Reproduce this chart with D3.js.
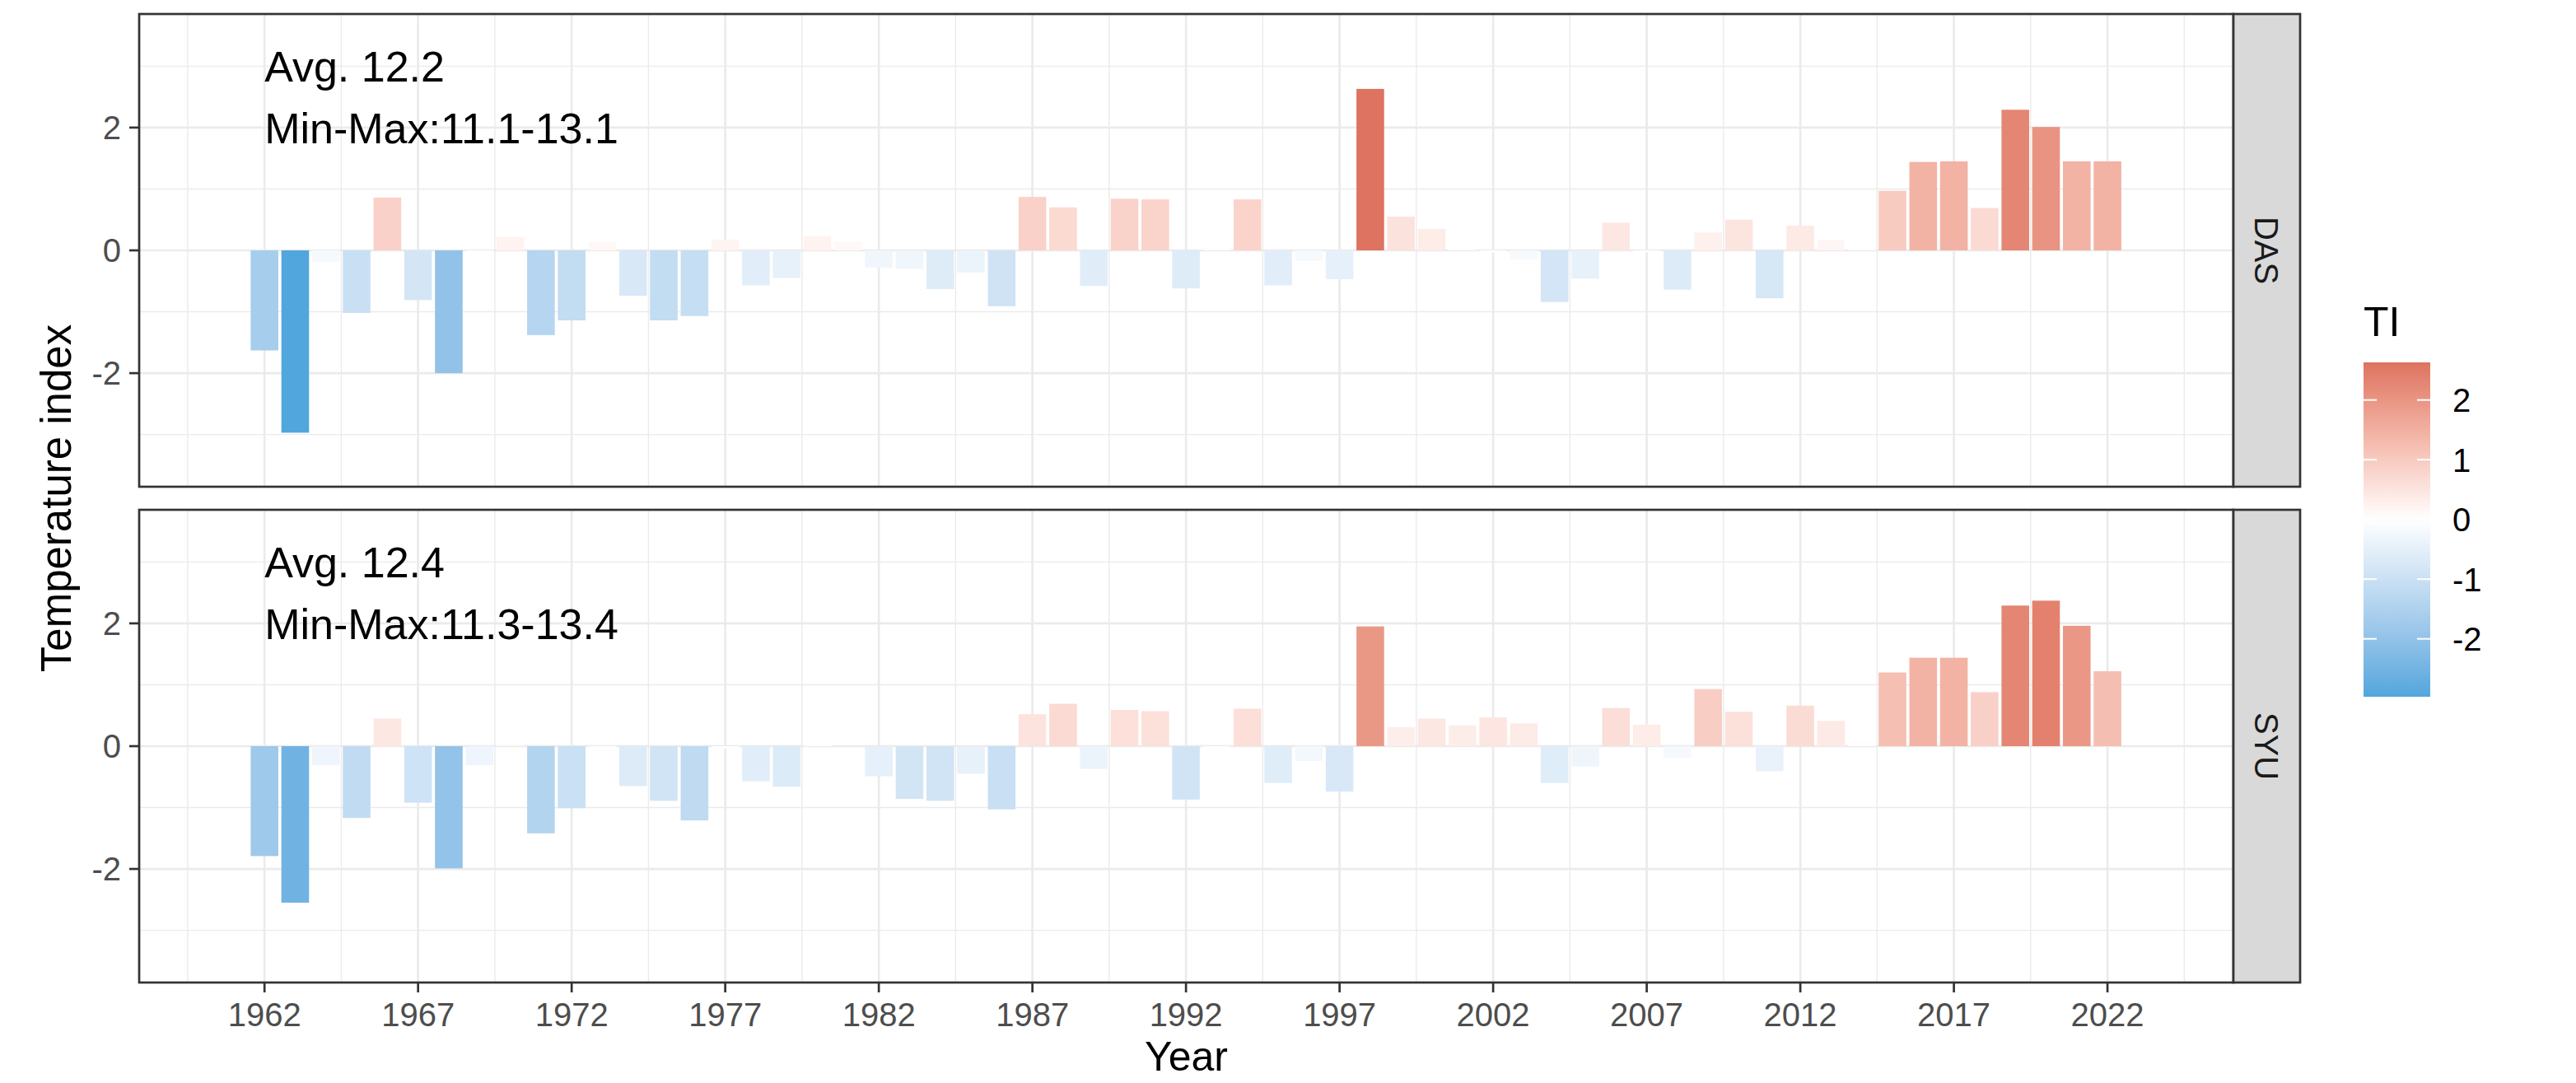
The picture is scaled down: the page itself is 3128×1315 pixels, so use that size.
<!DOCTYPE html>
<html><head><meta charset="utf-8">
<script src="https://cdn.jsdelivr.net/npm/d3@7"></script>
<style>body{margin:0;background:#fff} text{font-family:"Liberation Sans",Arial,sans-serif}</style>
</head><body><svg id="c" width="3128" height="1315"></svg>
<script>
const years = [1962,1963,1964,1965,1966,1967,1968,1969,1970,1971,1972,1973,1974,1975,1976,1977,1978,1979,1980,1981,
  1982,1983,1984,1985,1986,1987,1988,1989,1990,1991,1992,1993,1994,1995,1996,1997,1998,1999,2000,2001,
  2002,2003,2004,2005,2006,2007,2008,2009,2010,2011,2012,2013,2014,2015,2016,2017,2018,2019,2020,2021,2022];
const dasValues = [-1.63,-2.97,-0.19,-1.02,0.86,-0.81,-2.00,-0.02,0.22,-1.38,-1.14,0.14,-0.74,-1.14,-1.07,0.18,-0.57,-0.45,0.23,0.14,
  -0.28,-0.30,-0.63,-0.36,-0.91,0.87,0.70,-0.58,0.84,0.83,-0.62,0.05,0.83,-0.57,-0.17,-0.47,2.63,0.55,0.35,0.03,
  -0.03,-0.15,-0.84,-0.46,0.45,-0.03,-0.64,0.29,0.50,-0.78,0.40,0.17,0.02,0.97,1.44,1.45,0.69,2.29,2.01,1.45,1.45];
const syuValues = [-1.79,-2.55,-0.31,-1.17,0.45,-0.92,-1.99,-0.31,0.01,-1.42,-1.01,-0.02,-0.65,-0.89,-1.21,-0.04,-0.57,-0.66,0.02,0.00,
  -0.49,-0.86,-0.89,-0.45,-1.03,0.52,0.69,-0.37,0.59,0.57,-0.87,-0.03,0.61,-0.60,-0.24,-0.74,1.95,0.31,0.45,0.34,
  0.47,0.37,-0.60,-0.33,0.62,0.35,-0.19,0.93,0.56,-0.41,0.66,0.41,0.06,1.20,1.44,1.44,0.88,2.29,2.37,1.96,1.22];
const panelNames = ["DAS","SYU"];
const avgLabels = ["Avg. 12.2","Avg. 12.4"];
const rangeLabels = ["Min-Max:11.1-13.1","Min-Max:11.3-13.4"];
const xTicks = [1962,1967,1972,1977,1982,1987,1992,1997,2002,2007,2012,2017,2022];
const xMinor = [1959.5,1964.5,1969.5,1974.5,1979.5,1984.5,1989.5,1994.5,1999.5,2004.5,2009.5,2014.5,2019.5,2024.5];
const yTicks = [-2,0,2];
const yMinor = [-3,-1,1,3];
const legendTicks = [-2,-1,0,1,2];

const svg = d3.select("#c");
svg.append("rect").attr("width",3128).attr("height",1315).attr("fill","#fff");
const L = 169, R = 2712, panelTops = [17,619], panelH = 574;
const x = d3.scaleLinear().domain([1957.92, 2026.1]).range([L, R]);
const barW = (x(1) - x(0)) * 0.9;
const all = dasValues.concat(syuValues);
const ext = d3.extent(all);
const maxAbs = d3.max(ext, v => Math.abs(v));
const color = d3.scaleLinear().domain([-maxAbs, 0, maxAbs])
  .range(["#51A6DD", "#ffffff", "#D6604D"]).interpolate(d3.interpolateLab);
const series = [dasValues, syuValues];
const gridC = "#EBEBEB", dark = "#333333";

panelNames.forEach((name, pi) => {
  const top = panelTops[pi], bot = top + panelH;
  const y = d3.scaleLinear().domain([-3.85, 3.85]).range([bot, top]);
  const g = svg.append("g");
  g.append("rect").attr("x", L).attr("y", top).attr("width", R - L).attr("height", panelH).attr("fill", "#fff");
  g.selectAll(".xm").data(xMinor).enter().append("line")
    .attr("x1", d => x(d)).attr("x2", d => x(d)).attr("y1", top).attr("y2", bot)
    .attr("stroke", gridC).attr("stroke-width", 1.4);
  g.selectAll(".ym").data(yMinor).enter().append("line")
    .attr("y1", d => y(d)).attr("y2", d => y(d)).attr("x1", L).attr("x2", R)
    .attr("stroke", gridC).attr("stroke-width", 1.4);
  g.selectAll(".xM").data(xTicks).enter().append("line")
    .attr("x1", d => x(d)).attr("x2", d => x(d)).attr("y1", top).attr("y2", bot)
    .attr("stroke", gridC).attr("stroke-width", 2.7);
  g.selectAll(".yM").data(yTicks).enter().append("line")
    .attr("y1", d => y(d)).attr("y2", d => y(d)).attr("x1", L).attr("x2", R)
    .attr("stroke", gridC).attr("stroke-width", 2.7);
  const data = years.map((yr, i) => ({yr, v: series[pi][i]}));
  g.selectAll(".bar").data(data).enter().append("rect")
    .attr("x", d => x(d.yr) - barW / 2).attr("width", barW)
    .attr("y", d => y(Math.max(0, d.v))).attr("height", d => Math.abs(y(d.v) - y(0)))
    .attr("fill", d => color(d.v));
  g.append("text").attr("x", x(1962)).attr("y", y(3)).attr("dy", "0.36em")
    .attr("font-size", 52).attr("fill", "#000").text(avgLabels[pi]);
  g.append("text").attr("x", x(1962)).attr("y", y(2)).attr("dy", "0.36em")
    .attr("font-size", 52).attr("fill", "#000").text(rangeLabels[pi]);
  g.append("rect").attr("x", L).attr("y", top).attr("width", R - L).attr("height", panelH)
    .attr("fill", "none").attr("stroke", dark).attr("stroke-width", 2.7);
  g.selectAll(".yt").data(yTicks).enter().append("line")
    .attr("x1", L - 12).attr("x2", L).attr("y1", d => y(d)).attr("y2", d => y(d))
    .attr("stroke", dark).attr("stroke-width", 2.7);
  g.selectAll(".yl").data(yTicks).enter().append("text")
    .attr("x", L - 22).attr("y", d => y(d)).attr("dy", "0.36em").attr("text-anchor", "end")
    .attr("font-size", 40).attr("fill", "#4D4D4D").text(d => d);
  g.append("rect").attr("x", R).attr("y", top).attr("width", 81).attr("height", panelH)
    .attr("fill", "#D9D9D9").attr("stroke", dark).attr("stroke-width", 2.7);
  g.append("text").attr("transform", `translate(${R + 40.5},${top + panelH / 2}) rotate(90)`)
    .attr("text-anchor", "middle").attr("dy", "0.36em").attr("font-size", 40).attr("fill", "#1A1A1A").text(name);
});

const xb = panelTops[1] + panelH;
svg.selectAll(".xt").data(xTicks).enter().append("line")
  .attr("x1", d => x(d)).attr("x2", d => x(d)).attr("y1", xb).attr("y2", xb + 12)
  .attr("stroke", dark).attr("stroke-width", 2.7);
svg.selectAll(".xl").data(xTicks).enter().append("text")
  .attr("x", d => x(d)).attr("y", xb + 53).attr("text-anchor", "middle")
  .attr("font-size", 40).attr("fill", "#4D4D4D").text(d => d);
svg.append("text").attr("x", (L + R) / 2).attr("y", 1300).attr("text-anchor", "middle")
  .attr("font-size", 50).attr("fill", "#000").text("Year");
svg.append("text").attr("transform", `translate(86,${(panelTops[0] + xb) / 2}) rotate(-90)`)
  .attr("text-anchor", "middle").attr("font-size", 51).attr("fill", "#000").text("Temperature index");

const ly = d3.scaleLinear().domain(ext).range([846, 440]);
const defs = svg.append("defs");
const grad = defs.append("linearGradient").attr("id", "lg").attr("x1", 0).attr("x2", 0).attr("y1", 1).attr("y2", 0);
d3.range(0, 1.0001, 0.02).forEach(t => {
  grad.append("stop").attr("offset", t).attr("stop-color", color(ext[0] + t * (ext[1] - ext[0])));
});
const lx = 2870, lw = 81;
svg.append("rect").attr("x", lx).attr("y", 440).attr("width", lw).attr("height", 406).attr("fill", "url(#lg)");
legendTicks.forEach(t => {
  svg.append("line").attr("x1", lx).attr("x2", lx + 16).attr("y1", ly(t)).attr("y2", ly(t)).attr("stroke", "#fff").attr("stroke-width", 2);
  svg.append("line").attr("x1", lx + lw - 16).attr("x2", lx + lw).attr("y1", ly(t)).attr("y2", ly(t)).attr("stroke", "#fff").attr("stroke-width", 2);
  svg.append("text").attr("x", lx + lw + 27).attr("y", ly(t)).attr("dy", "0.36em")
    .attr("font-size", 40).attr("fill", "#000").text(t);
});
svg.append("text").attr("x", lx).attr("y", 408).attr("font-size", 50).attr("fill", "#000").text("TI");
</script></body></html>
